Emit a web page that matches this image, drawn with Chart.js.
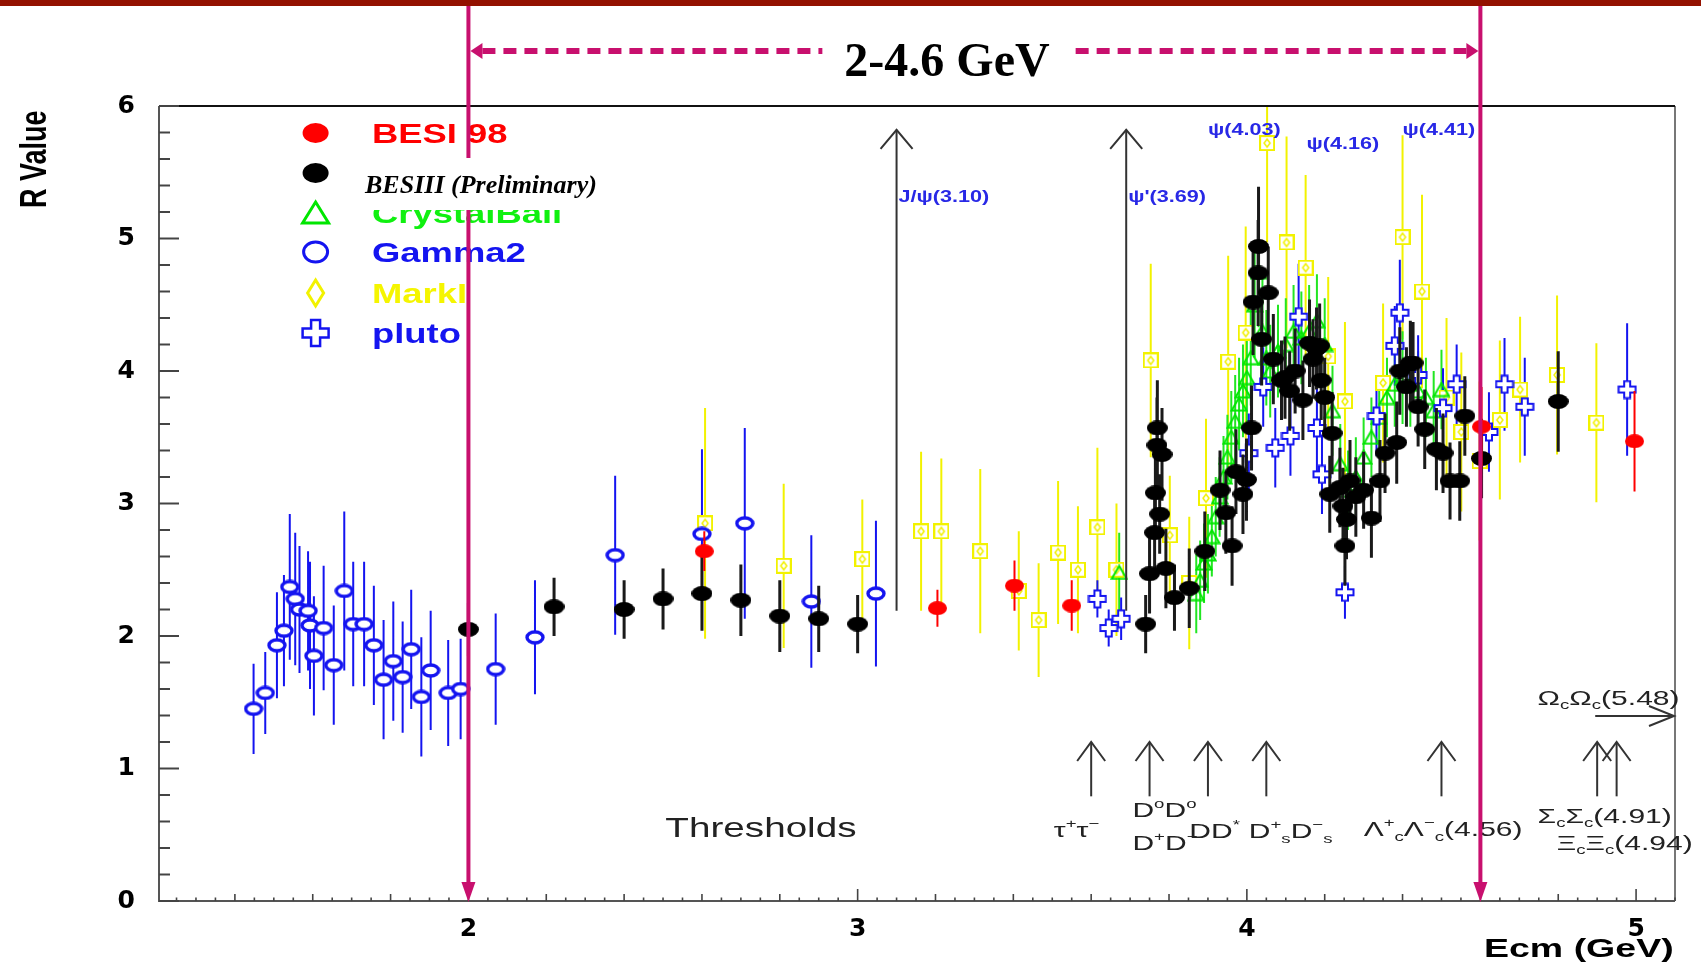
<!DOCTYPE html>
<html>
<head>
<meta charset="utf-8">
<title>R value scan 2-4.6 GeV</title>
<script src="https://cdn.jsdelivr.net/npm/chart.js@4.4.1/dist/chart.umd.min.js"></script>
<style>
  html, body { margin: 0; padding: 0; background: #fff; }
  #wrap { width: 1701px; height: 966px; }
</style>
</head>
<body>
<div id="wrap"><canvas id="chart" width="1701" height="966"></canvas></div>
<script>
// ---- data (Ecm in GeV, R, error) ----
const besi98E   = [2.606, 3.205, 3.403, 3.550, 4.603, 4.996];
const besi98R   = [2.64, 2.21, 2.38, 2.23, 3.58, 3.47];
const besi98Err = [0.15, 0.14, 0.19, 0.19, 0.30, 0.38];

const besiiiE = [2.00, 2.22, 2.40, 2.50, 2.60, 2.70, 2.80, 2.90, 3.00,
  3.740, 3.750, 3.763, 3.765, 3.769, 3.770, 3.776, 3.782, 3.792, 3.814, 3.852, 3.892,
  3.931, 3.946, 3.962, 3.972, 3.990, 3.999, 4.012, 4.016, 4.029, 4.030, 4.038, 4.055, 4.068,
  4.089, 4.098, 4.110, 4.124, 4.144, 4.161, 4.170, 4.179, 4.187, 4.191, 4.200, 4.213, 4.219,
  4.239, 4.247, 4.252, 4.256, 4.265, 4.280, 4.300, 4.320, 4.342, 4.355, 4.385, 4.393, 4.410,
  4.420, 4.427, 4.440, 4.457, 4.487, 4.504, 4.522, 4.547, 4.560, 4.603, 4.800];
const besiiiR = [2.05, 2.22, 2.20, 2.28, 2.32, 2.27, 2.15, 2.13, 2.09,
  2.09, 2.47, 2.78, 3.08, 3.44, 3.57, 2.92, 3.37, 2.51, 2.29, 2.36, 2.64,
  3.10, 2.93, 2.68, 3.24, 3.07, 3.18, 3.57, 4.52, 4.74, 4.94, 4.24, 4.59, 4.09,
  3.93, 3.95, 3.85, 4.00, 3.78, 4.21, 4.09, 4.17, 4.19, 3.93, 3.80, 3.07, 3.53,
  3.12, 2.98, 2.68, 2.88, 3.17, 3.05, 3.10, 2.89, 3.17, 3.38, 3.46, 4.00, 3.88,
  4.06, 4.06, 3.73, 3.56, 3.41, 3.38, 3.17, 3.17, 3.66, 3.34, 3.77];
const besiiiErr = [0.20, 0.22, 0.22, 0.23, 0.28, 0.27, 0.27, 0.25, 0.22,
  0.22, 0.30, 0.30, 0.31, 0.36, 0.36, 0.30, 0.35, 0.30, 0.25, 0.30, 0.30,
  0.30, 0.31, 0.30, 0.32, 0.30, 0.31, 0.32, 0.40, 0.40, 0.45, 0.35, 0.35, 0.34,
  0.30, 0.31, 0.30, 0.32, 0.30, 0.33, 0.30, 0.31, 0.32, 0.30, 0.30, 0.29, 0.31,
  0.30, 0.29, 0.30, 0.30, 0.31, 0.30, 0.29, 0.30, 0.31, 0.30, 0.31, 0.33, 0.30,
  0.32, 0.31, 0.30, 0.30, 0.31, 0.30, 0.29, 0.30, 0.30, 0.30, 0.38];

const crystalE = [3.672, 3.870, 3.880, 3.890, 3.900, 3.910, 3.920, 3.930, 3.940, 3.950,
  3.960, 3.970, 3.980, 3.990, 4.000, 4.010, 4.020, 4.030, 4.040, 4.050, 4.060, 4.080,
  4.100, 4.120, 4.140, 4.160, 4.180, 4.200, 4.220, 4.240, 4.260, 4.280, 4.300, 4.320,
  4.340, 4.360, 4.380, 4.400, 4.420, 4.440, 4.460, 4.480, 4.500];
const crystalR = [2.48, 2.32, 2.42, 2.55, 2.62, 2.75, 2.90, 3.05, 3.20, 3.35,
  3.50, 3.62, 3.75, 3.85, 3.95, 4.10, 4.50, 4.75, 4.30, 4.10, 4.00, 4.15,
  4.20, 4.30, 4.25, 4.30, 4.38, 4.20, 3.70, 3.30, 3.10, 3.20, 3.35, 3.50,
  3.65, 3.80, 3.90, 3.95, 3.90, 3.85, 3.80, 3.70, 3.86];
const crystalErr = [0.30, 0.30, 0.30, 0.30, 0.30, 0.30, 0.30, 0.30, 0.31, 0.32,
  0.35, 0.35, 0.35, 0.35, 0.35, 0.36, 0.40, 0.42, 0.40, 0.36, 0.35, 0.35,
  0.35, 0.35, 0.35, 0.35, 0.35, 0.35, 0.34, 0.30, 0.30, 0.30, 0.30, 0.30,
  0.30, 0.30, 0.32, 0.35, 0.32, 0.30, 0.30, 0.30, 0.30];

const gamma2E = [1.448, 1.478, 1.508, 1.526, 1.541, 1.555, 1.566, 1.588, 1.593, 1.603,
  1.628, 1.654, 1.681, 1.704, 1.732, 1.757, 1.782, 1.807, 1.831, 1.853, 1.879, 1.903,
  1.948, 1.980, 2.070, 2.171, 2.377, 2.600, 2.710, 2.881, 3.047];
const gamma2R = [1.45, 1.57, 1.93, 2.04, 2.37, 2.28, 2.20, 2.19, 2.08, 1.85,
  2.06, 1.78, 2.34, 2.09, 2.09, 1.93, 1.67, 1.81, 1.69, 1.90, 1.54, 1.74,
  1.57, 1.60, 1.75, 1.99, 2.61, 2.77, 2.85, 2.26, 2.32];
const gamma2Err = [0.34, 0.31, 0.40, 0.42, 0.55, 0.50, 0.48, 0.45, 0.48, 0.45,
  0.47, 0.45, 0.60, 0.47, 0.47, 0.45, 0.45, 0.45, 0.42, 0.45, 0.45, 0.45,
  0.40, 0.38, 0.42, 0.43, 0.60, 0.64, 0.72, 0.50, 0.55];

const markIE = [2.608, 2.810, 3.012, 3.163, 3.215, 3.315, 3.414, 3.465, 3.515, 3.566,
  3.616, 3.665, 3.753, 3.802, 3.852, 3.895, 3.952, 3.997, 4.052, 4.102, 4.151, 4.209,
  4.252, 4.350, 4.400, 4.450, 4.513, 4.551, 4.598, 4.650, 4.702, 4.797, 4.898];
const markIR = [2.85, 2.53, 2.58, 2.79, 2.79, 2.64, 2.34, 2.12, 2.63, 2.50,
  2.82, 2.50, 4.08, 2.76, 2.40, 3.04, 4.07, 4.29, 5.72, 4.97, 4.78, 4.11,
  3.77, 3.91, 5.01, 4.60, 3.80, 3.54, 3.32, 3.63, 3.86, 3.97, 3.61];
const markIErr = [0.87, 0.62, 0.45, 0.60, 0.55, 0.62, 0.45, 0.43, 0.54, 0.48,
  0.60, 0.50, 0.73, 0.45, 0.50, 0.60, 0.80, 0.80, 0.75, 0.80, 0.70, 0.60,
  0.60, 0.60, 0.77, 0.73, 0.60, 0.60, 0.60, 0.60, 0.55, 0.60, 0.60];

const plutoE = [3.616, 3.645, 3.677, 4.005, 4.042, 4.073, 4.112, 4.133, 4.180, 4.193,
  4.252, 4.333, 4.380, 4.393, 4.440, 4.504, 4.539, 4.622, 4.662, 4.714, 4.977];
const plutoR = [2.28, 2.06, 2.13, 3.38, 3.88, 3.42, 3.51, 4.41, 3.57, 3.22,
  2.33, 3.66, 4.19, 4.44, 3.97, 3.72, 3.90, 3.54, 3.90, 3.73, 3.86];
const plutoErr = [0.14, 0.14, 0.16, 0.30, 0.30, 0.30, 0.30, 0.40, 0.35, 0.30,
  0.20, 0.30, 0.30, 0.40, 0.30, 0.30, 0.30, 0.30, 0.35, 0.37, 0.50];

// axis ticks
const xTickValues = [2, 3, 4, 5];
const xTickLabels = ['2', '3', '4', '5'];
const yTickValues = [0, 1, 2, 3, 4, 5, 6];
const yTickLabels = ['0', '1', '2', '3', '4', '5', '6'];

// annotations
const windowE = [2.0, 4.6];
const resonanceE = [3.10, 3.69];
const resonanceLabels = ['J/ψ(3.10)', "ψ'(3.69)"];
const peakLabels = ['ψ(4.03)', 'ψ(4.16)', 'ψ(4.41)'];
const peakLabelE = [3.900, 4.153, 4.400];
const peakLabelR = [5.83, 5.72, 5.83];
const thresholdE = [3.60, 3.75, 3.90, 4.05, 4.50, 4.90, 4.95];

// ---- markers ----
function marker(w, h, draw) {
  const c = document.createElement('canvas');
  c.width = w; c.height = h;
  draw(c.getContext('2d'), w, h);
  return c;
}
function ellipsePath(g, cx, cy, rx, ry) {
  g.beginPath(); g.ellipse(cx, cy, rx, ry, 0, 0, Math.PI * 2);
}
function crossPath(g, cx, cy, L, a) {
  g.beginPath();
  g.moveTo(cx - a, cy - L); g.lineTo(cx + a, cy - L); g.lineTo(cx + a, cy - a);
  g.lineTo(cx + L, cy - a); g.lineTo(cx + L, cy + a); g.lineTo(cx + a, cy + a);
  g.lineTo(cx + a, cy + L); g.lineTo(cx - a, cy + L); g.lineTo(cx - a, cy + a);
  g.lineTo(cx - L, cy + a); g.lineTo(cx - L, cy - a); g.lineTo(cx - a, cy - a);
  g.closePath();
}
const RED = '#ff0000', BLUE = '#1414f0', GREEN = '#00e600', YELLOW = '#f2f200', PINK = '#c8106e';

const dotRed = marker(19, 14, (g, w, h) => { g.fillStyle = RED; ellipsePath(g, w / 2, h / 2, w / 2, h / 2); g.fill(); });
const dotBlack = marker(21, 15, (g, w, h) => { g.fillStyle = '#000'; ellipsePath(g, w / 2, h / 2, w / 2, h / 2); g.fill(); });
const ringBlue = marker(20, 15, (g, w, h) => {
  g.fillStyle = '#fff'; g.strokeStyle = BLUE; g.lineWidth = 3.4;
  ellipsePath(g, w / 2, h / 2, w / 2 - 2, h / 2 - 2); g.fill(); g.stroke();
});
const boxYellow = marker(16, 16, (g) => {
  g.fillStyle = '#fff'; g.fillRect(1, 1, 14, 14);
  g.strokeStyle = YELLOW; g.lineWidth = 2; g.strokeRect(1, 1, 14, 14);
  g.lineWidth = 1.5; g.beginPath();
  g.moveTo(8, 4); g.lineTo(11, 8); g.lineTo(8, 12); g.lineTo(5, 8); g.closePath(); g.stroke();
});
const triGreen = marker(18, 16, (g) => {
  g.strokeStyle = GREEN; g.lineWidth = 2; g.beginPath();
  g.moveTo(9, 1.5); g.lineTo(16.5, 14.5); g.lineTo(1.5, 14.5); g.closePath(); g.stroke();
});
const crossBlue = marker(20, 20, (g) => {
  g.fillStyle = '#fff'; g.strokeStyle = BLUE; g.lineWidth = 2;
  crossPath(g, 10, 10, 8.5, 3); g.fill(); g.stroke();
});

function points(E, R) {
  return E.map((e, i) => ({ x: e, y: R[i] }));
}
function errorBars(E, R, Err) {
  const out = [];
  E.forEach((e, i) => {
    out.push({ x: e, y: R[i] - Err[i] }, { x: e, y: R[i] + Err[i] }, { x: e, y: null });
  });
  return out;
}
function markSet(label, E, R, style) {
  return { label, data: points(E, R), pointStyle: style, pointRadius: 6, showLine: false };
}
function barSet(label, E, R, Err, color, width) {
  return {
    label, data: errorBars(E, R, Err), showLine: true, spanGaps: false,
    borderColor: color, borderWidth: width, pointRadius: 0, tension: 0
  };
}

// ---- text helpers (ROOT text is stretched sideways in the picture) ----
function rich(ctx, parts, x, y, size, color, sx, weight) {
  ctx.save();
  ctx.fillStyle = color;
  ctx.textBaseline = 'alphabetic';
  ctx.textAlign = 'left';
  ctx.translate(x, y);
  ctx.scale(sx, 1);
  let cx = 0;
  parts.forEach(([t, s]) => {
    const fs = s ? size * 0.62 : size;
    ctx.font = `${weight || 'normal'} ${fs}px "Liberation Sans", Arial, sans-serif`;
    const dy = s === 1 ? -size * 0.42 : (s === -1 ? size * 0.22 : 0);
    ctx.fillText(t, cx, dy);
    cx += ctx.measureText(t).width;
  });
  ctx.restore();
}
function line(ctx, x1, y1, x2, y2) {
  ctx.beginPath(); ctx.moveTo(x1, y1); ctx.lineTo(x2, y2); ctx.stroke();
}
function upArrow(ctx, x, yTip, yEnd, half, head) {
  line(ctx, x, yEnd, x, yTip);
  ctx.beginPath(); ctx.moveTo(x - half, yTip + head); ctx.lineTo(x, yTip); ctx.lineTo(x + half, yTip + head); ctx.stroke();
}

const rootStyle = {
  id: 'rootStyle',
  beforeDraw(chart) {
    const ctx = chart.ctx;
    ctx.save();
    ctx.fillStyle = '#fff';
    ctx.fillRect(0, 0, chart.width, chart.height);
    ctx.fillStyle = '#931100';
    ctx.fillRect(0, 0, chart.width, 6);
    ctx.restore();
  },
  afterDatasetsDraw(chart) {
    const ctx = chart.ctx, a = chart.chartArea;
    const X = v => chart.scales.x.getPixelForValue(v);
    const Y = v => chart.scales.y.getPixelForValue(v);
    ctx.save();
    ctx.lineCap = 'butt';

    // frame
    ctx.lineWidth = 2;
    ctx.strokeStyle = '#555';
    line(ctx, a.left, a.top, a.left, a.bottom + 1);
    line(ctx, a.left, a.bottom, a.right, a.bottom);
    ctx.strokeStyle = '#777';
    line(ctx, a.right, a.top, a.right, a.bottom);
    ctx.strokeStyle = '#111';
    line(ctx, a.left, a.top, a.right, a.top);

    // inward ticks
    ctx.strokeStyle = '#444';
    ctx.lineWidth = 2;
    for (let k = 0; k <= 30; k++) {
      const yy = Y(k * 0.2);
      line(ctx, a.left, yy, a.left + (k % 5 === 0 ? 20 : 11), yy);
    }
    ctx.lineWidth = 1.6;
    for (let k = 25; k <= 102; k++) {
      const xx = X(k * 0.05);
      const len = k % 20 === 0 ? 12 : (k % 4 === 0 ? 7 : 3.5);
      line(ctx, xx, a.bottom, xx, a.bottom - len);
    }

    // resonance arrows
    ctx.strokeStyle = '#333';
    ctx.lineWidth = 2;
    resonanceE.forEach((e, i) => {
      upArrow(ctx, X(e), Y(5.82), Y(2.19), 16, 19);
      rich(ctx, [[resonanceLabels[i], 0]], X(e) + 2, Y(5.32) + 6, 16, '#2828e6', 1.35, 'bold');
    });
    peakLabels.forEach((t, i) => {
      rich(ctx, [[t, 0]], X(peakLabelE[i]), Y(peakLabelR[i]) + 6, 16, '#2828e6', 1.35, 'bold');
    });

    // threshold arrows
    ctx.strokeStyle = '#333';
    ctx.lineWidth = 2;
    thresholdE.forEach(e => upArrow(ctx, X(e), Y(1.2), Y(0.79), 14, 19));
    // Omega_c arrow to the right
    const yo = Y(1.396);
    line(ctx, X(4.895), yo, a.right - 1, yo);
    ctx.beginPath(); ctx.moveTo(a.right - 26, yo - 10); ctx.lineTo(a.right - 1, yo); ctx.lineTo(a.right - 26, yo + 10); ctx.stroke();

    const tc = '#222', ts = 21, tsx = 1.43;
    rich(ctx, [['Thresholds', 0]], X(2.506), Y(0.561) + 10, 28, tc, 1.38);
    rich(ctx, [['τ', 0], ['+', 1], ['τ', 0], ['−', 1]], X(3.504), Y(0.538) + 7, ts, tc, tsx);
    rich(ctx, [['D', 0], ['o', 1], ['D', 0], ['o', 1]], X(3.706), Y(0.689) + 7, ts, tc, tsx);
    rich(ctx, [['D', 0], ['+', 1], ['D', 0], ['−', 1]], X(3.706), Y(0.44) + 7, ts, tc, tsx);
    rich(ctx, [['DD', 0], ['*', 1]], X(3.852), Y(0.527) + 7, ts, tc, tsx);
    rich(ctx, [['D', 0], ['+', 1], ['s', -1], ['D', 0], ['−', 1], ['s', -1]], X(4.005), Y(0.527) + 7, ts, tc, tsx);
    rich(ctx, [['Λ', 0], ['+', 1], ['c', -1], ['Λ', 0], ['−', 1], ['c', -1], ['(4.56)', 0]], X(4.300), Y(0.541) + 7, ts, tc, tsx);
    rich(ctx, [['Σ', 0], ['c', -1], ['Σ', 0], ['c', -1], ['(4.91)', 0]], X(4.747), Y(0.644) + 7, ts, tc, tsx);
    rich(ctx, [['Ξ', 0], ['c', -1], ['Ξ', 0], ['c', -1], ['(4.94)', 0]], X(4.796), Y(0.44) + 7, ts, tc, tsx);
    rich(ctx, [['Ω', 0], ['c', -1], ['Ω', 0], ['c', -1], ['(5.48)', 0]], X(4.747), Y(1.534) + 7, ts, tc, tsx);

    // legend (inside the frame, top left)
    const lx = 315.6, tx = 372;
    const rows = [133, 173, 213, 252, 293, 333];
    ctx.lineWidth = 3;
    ctx.fillStyle = RED; ellipsePath(ctx, lx, rows[0], 13, 10); ctx.fill();
    ctx.fillStyle = '#000'; ellipsePath(ctx, lx, rows[1], 13, 10); ctx.fill();
    ctx.strokeStyle = GREEN; ctx.beginPath();
    ctx.moveTo(lx, rows[2] - 11); ctx.lineTo(lx + 13, rows[2] + 10); ctx.lineTo(lx - 13, rows[2] + 10); ctx.closePath(); ctx.stroke();
    ctx.strokeStyle = BLUE; ellipsePath(ctx, lx, rows[3], 12, 10); ctx.stroke();
    ctx.strokeStyle = YELLOW; ctx.beginPath();
    ctx.moveTo(lx, rows[4] - 13); ctx.lineTo(lx + 8, rows[4]); ctx.lineTo(lx, rows[4] + 13); ctx.lineTo(lx - 8, rows[4]); ctx.closePath(); ctx.stroke();
    ctx.strokeStyle = BLUE; ctx.lineWidth = 2.5; crossPath(ctx, lx, rows[5], 13, 4.5); ctx.stroke();
    const lsz = 28, lsx = 1.3;
    rich(ctx, [['BESI 98', 0]], tx, rows[0] + 10, lsz, RED, lsx, 'bold');
    rich(ctx, [['CrystalBall', 0]], tx, rows[2] + 10, lsz, '#10f010', lsx, 'bold');
    rich(ctx, [['Gamma2', 0]], tx, rows[3] + 10, lsz, BLUE, lsx, 'bold');
    rich(ctx, [['MarkI', 0]], tx, rows[4] + 10, lsz, '#f5f500', lsx, 'bold');
    rich(ctx, [['pluto', 0]], tx, rows[5] + 10, lsz, BLUE, lsx, 'bold');

    // pink window lines with arrowheads on the axis
    ctx.strokeStyle = PINK; ctx.fillStyle = PINK; ctx.lineWidth = 4;
    windowE.forEach(e => {
      const xx = X(e);
      line(ctx, xx, 6, xx, a.bottom - 16);
      ctx.beginPath(); ctx.moveTo(xx - 7, a.bottom - 19); ctx.lineTo(xx + 7, a.bottom - 19); ctx.lineTo(xx, a.bottom + 1); ctx.closePath(); ctx.fill();
    });

    // dashed double arrow with the range label
    const yd = 51, x1 = X(windowE[0]) + 2, x2 = X(windowE[1]) - 2;
    ctx.font = 'bold 48px "Liberation Serif", "Times New Roman", serif';
    const label = '2-4.6 GeV';
    const tw = ctx.measureText(label).width, tcx = 947;
    ctx.beginPath(); ctx.moveTo(x1, yd); ctx.lineTo(x1 + 12, yd - 8); ctx.lineTo(x1 + 12, yd + 8); ctx.closePath(); ctx.fill();
    ctx.beginPath(); ctx.moveTo(x2, yd); ctx.lineTo(x2 - 12, yd - 8); ctx.lineTo(x2 - 12, yd + 8); ctx.closePath(); ctx.fill();
    ctx.lineWidth = 6; ctx.setLineDash([13, 8]);
    line(ctx, x1 + 12, yd, tcx - tw / 2 - 22, yd);
    line(ctx, tcx + tw / 2 + 26, yd, x2 - 12, yd);
    ctx.setLineDash([]);
    ctx.fillStyle = '#000'; ctx.textAlign = 'center'; ctx.textBaseline = 'alphabetic';
    ctx.fillText(label, tcx, 76);

    // white label box for BESIII
    ctx.fillStyle = '#fff';
    ctx.fillRect(359, 158, 241, 52);
    ctx.fillStyle = '#000'; ctx.textAlign = 'left';
    ctx.font = 'italic bold 26px "Liberation Serif", "Times New Roman", serif';
    ctx.fillText('BESIII (Preliminary)', 365, 193);

    // axis titles
    rich(ctx, [['Ecm (GeV)', 0]], 1673 - 189, 957, 25, '#000', 1.5, 'bold');
    ctx.translate(45.5, 208);
    ctx.rotate(-Math.PI / 2);
    ctx.scale(1, 1.35);
    ctx.font = 'bold 27px "Liberation Sans", Arial, sans-serif';
    ctx.fillStyle = '#000';
    ctx.fillText('R Value', 0, 0);
    ctx.restore();
  }
};

const tickFont = { family: '"DejaVu Sans", Arial, sans-serif', weight: 'bold', size: 25 };

new Chart(document.getElementById('chart'), {
  type: 'scatter',
  data: {
    datasets: [
      markSet('BESI 98', besi98E, besi98R, dotRed),
      barSet('BESI 98 err', besi98E, besi98R, besi98Err, RED, 2),
      markSet('BESIII (Preliminary)', besiiiE, besiiiR, dotBlack),
      barSet('BESIII err', besiiiE, besiiiR, besiiiErr, '#1a1a1a', 3),
      markSet('pluto', plutoE, plutoR, crossBlue),
      markSet('CrystalBall', crystalE, crystalR, triGreen),
      markSet('Gamma2', gamma2E, gamma2R, ringBlue),
      markSet('MarkI', markIE, markIR, boxYellow),
      barSet('pluto err', plutoE, plutoR, plutoErr, BLUE, 2),
      barSet('CrystalBall err', crystalE, crystalR, crystalErr, '#22e622', 2),
      barSet('Gamma2 err', gamma2E, gamma2R, gamma2Err, BLUE, 2),
      barSet('MarkI err', markIE, markIR, markIErr, YELLOW, 2)
    ]
  },
  options: {
    responsive: false,
    animation: false,
    devicePixelRatio: 1,
    events: [],
    layout: { padding: { top: 106, right: 26, bottom: 0, left: 0 } },
    scales: {
      x: {
        type: 'linear', min: 1.205, max: 5.1,
        afterBuildTicks: s => { s.ticks = xTickValues.map(v => ({ value: v })); },
        afterFit: s => { s.height = 65; },
        grid: { display: false, drawTicks: false },
        border: { display: false },
        ticks: { font: tickFont, color: '#000', padding: 13, maxRotation: 0, autoSkip: false,
                 callback: (v, i) => xTickLabels[i] }
      },
      y: {
        type: 'linear', min: 0, max: 6,
        afterBuildTicks: s => { s.ticks = yTickValues.map(v => ({ value: v })); },
        afterFit: s => { s.width = 159; },
        grid: { display: false, drawTicks: false },
        border: { display: false },
        ticks: { font: tickFont, color: '#000', padding: 24, autoSkip: false,
                 callback: (v, i) => yTickLabels[i] }
      }
    },
    plugins: { legend: { display: false }, tooltip: { enabled: false } }
  },
  plugins: [rootStyle]
});
</script>
</body>
</html>
